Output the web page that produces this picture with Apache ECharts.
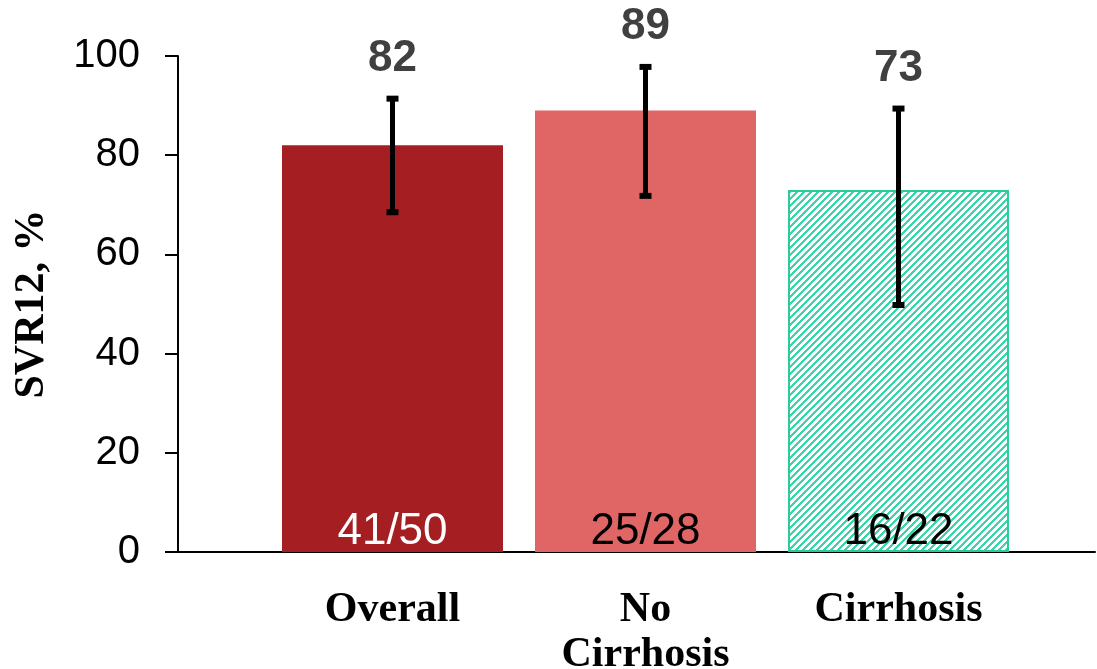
<!DOCTYPE html>
<html>
<head>
<meta charset="utf-8">
<script src="https://cdn.jsdelivr.net/npm/echarts@6/dist/echarts.min.js"></script>
<style>
  html, body { margin: 0; padding: 0; background: #fff; }
  #chart { width: 1097px; height: 669px; }
</style>
</head>
<body>
<div id="chart"></div>
<script>
// data
const categories = ['Overall', 'No\nCirrhosis', 'Cirrhosis'];
const svr = [82, 89, 73];
const ciLow = [68.5, 71.8, 49.8];
const ciHigh = [91.4, 97.8, 89.4];
const counts = ['41/50', '25/28', '16/22'];
const yTicks = [0, 20, 40, 60, 80, 100];

// hatch pattern for the cirrhosis bar
function makeHatch() {
  const size = 7;
  const cv = document.createElement('canvas');
  cv.width = size; cv.height = size;
  const ctx = cv.getContext('2d');
  ctx.fillStyle = '#ffffff';
  ctx.fillRect(0, 0, size, size);
  ctx.fillStyle = '#3ad6a9';
  for (let x = 0; x < size; x++) {
    for (let y = 0; y < size; y++) {
      if ((x + y) % size < 3) ctx.fillRect(x, y, 1, 1);
    }
  }
  return cv;
}

const barColors = ['#a51f22', '#e06565', { image: makeHatch(), repeat: 'repeat' }];
const countColors = ['#ffffff', '#000000', '#000000'];

const myChart = echarts.init(document.getElementById('chart'));

const barData = svr.map((v, i) => ({
  value: v,
  itemStyle: i === 2
    ? { color: barColors[i], borderColor: '#2ccb9a', borderWidth: 2 }
    : { color: barColors[i] },
  label: { color: countColors[i] }
}));

const errData = svr.map((v, i) => [i, ciLow[i], ciHigh[i], v]);

const option = {
  backgroundColor: '#ffffff',
  animation: false,
  grid: [
    { left: 178, right: 2, top: 56, bottom: 117, outerBoundsMode: 'none' },
    { left: 266, right: 72, top: 56, bottom: 117, outerBoundsMode: 'none' }
  ],
  xAxis: [
    {
      gridIndex: 0,
      type: 'value',
      min: 0,
      max: 1,
      axisLine: { show: true, onZero: false, lineStyle: { color: '#000', width: 2 } },
      axisTick: { show: false },
      axisLabel: { show: false },
      splitLine: { show: false }
    },
    {
      gridIndex: 1,
      type: 'category',
      data: categories,
      axisLine: { show: false },
      axisTick: { show: false },
      axisLabel: {
        margin: 36,
        fontFamily: 'Liberation Serif',
        fontWeight: 'bold',
        fontSize: 42,
        lineHeight: 45,
        color: '#000'
      }
    }
  ],
  yAxis: [
    {
      gridIndex: 0,
      type: 'value',
      min: 0,
      max: 100,
      interval: 20,
      name: 'SVR12, %',
      nameLocation: 'middle',
      nameGap: 125,
      nameTextStyle: {
        fontFamily: 'Liberation Serif',
        fontWeight: 'bold',
        fontSize: 42,
        color: '#000'
      },
      axisLine: { show: true, lineStyle: { color: '#000', width: 2 } },
      axisTick: { show: true, length: 13, lineStyle: { color: '#000', width: 2 } },
      axisLabel: {
        margin: 38,
        fontFamily: 'Liberation Sans',
        fontSize: 40,
        color: '#000',
        formatter: v => (yTicks.indexOf(v) >= 0 ? String(v) : '')
      },
      splitLine: { show: false }
    },
    {
      gridIndex: 1,
      type: 'value',
      min: 0,
      max: 100,
      show: false
    }
  ],
  series: [
    {
      type: 'bar',
      xAxisIndex: 1,
      yAxisIndex: 1,
      barWidth: 221,
      data: barData,
      label: {
        show: true,
        position: 'insideBottom',
        distance: -2,
        fontFamily: 'Liberation Sans',
        fontSize: 44,
        formatter: p => counts[p.dataIndex]
      }
    },
    {
      type: 'custom',
      xAxisIndex: 1,
      yAxisIndex: 1,
      data: errData,
      z: 10,
      renderItem: function (params, api) {
        const lo = api.coord([api.value(0), api.value(1)]);
        const hi = api.coord([api.value(0), api.value(2)]);
        const capW = 12, capH = 6;
        return {
          type: 'group',
          children: [
            {
              type: 'line',
              shape: { x1: hi[0], y1: hi[1], x2: lo[0], y2: lo[1] },
              style: { stroke: '#000', lineWidth: 5 }
            },
            {
              type: 'rect',
              shape: { x: hi[0] - capW / 2, y: hi[1] - capH / 2, width: capW, height: capH },
              style: { fill: '#000' }
            },
            {
              type: 'rect',
              shape: { x: lo[0] - capW / 2, y: lo[1] - capH / 2, width: capW, height: capH },
              style: { fill: '#000' }
            },
            {
              type: 'text',
              style: {
                text: String(api.value(3)),
                x: hi[0],
                y: hi[1] - 40,
                align: 'center',
                verticalAlign: 'middle',
                font: 'bold 44px "Liberation Sans"',
                fill: '#404040'
              }
            }
          ]
        };
      }
    }
  ]
};

myChart.setOption(option);

window.addEventListener('resize', () => {
  myChart.resize();
});
</script>
</body>
</html>
